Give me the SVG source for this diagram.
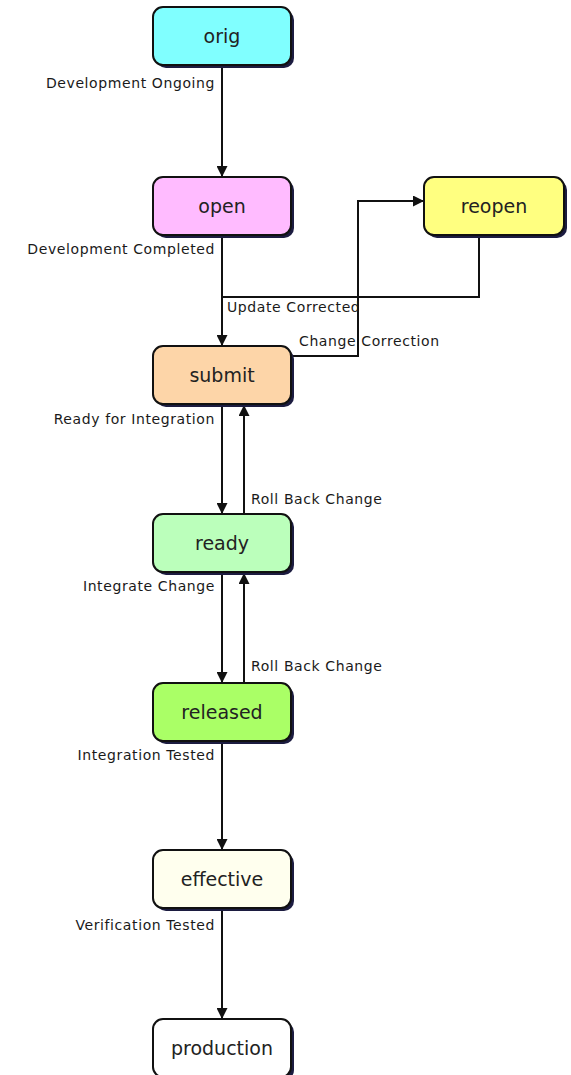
<svg xmlns="http://www.w3.org/2000/svg" width="571" height="1075" viewBox="0 0 571 1075">
<defs>
<marker id="arr" markerUnits="userSpaceOnUse" markerWidth="11" markerHeight="11" viewBox="0 0 10 10" refX="10" refY="5" orient="auto">
<path d="M0,0 L10,5 L0,10 Z" fill="#111"/>
</marker>
<style>
.box{stroke:#111;stroke-width:2}
.shadow{fill:#1c1c40}
.nl{font-family:"DejaVu Sans",Verdana,sans-serif;font-size:19px;fill:#222;text-anchor:middle}
.el{font-family:"DejaVu Sans",Verdana,sans-serif;font-size:14px;letter-spacing:0.6px;fill:#1a1a1a}
.r{text-anchor:end}
.c{fill:none;stroke:#111;stroke-width:2}
</style>
</defs>
<rect width="571" height="1075" fill="#ffffff"/>
<g id="connectors">
<path class="c" d="M222 66 V177" marker-end="url(#arr)"/>
<path class="c" d="M222 236 V346" marker-end="url(#arr)"/>
<path class="c" d="M479 236 V297 H222"/>
<path class="c" d="M292 356 H358 V201 H424" marker-end="url(#arr)"/>
<path class="c" d="M222 405 V514" marker-end="url(#arr)"/>
<path class="c" d="M244 514 V405" marker-end="url(#arr)"/>
<path class="c" d="M222 573 V683" marker-end="url(#arr)"/>
<path class="c" d="M244 683 V573" marker-end="url(#arr)"/>
<path class="c" d="M222 742 V850" marker-end="url(#arr)"/>
<path class="c" d="M222 909 V1019" marker-end="url(#arr)"/>
<text class="el r" x="215" y="88">Development Ongoing</text>
<text class="el r" x="215" y="254">Development Completed</text>
<text class="el" x="227" y="312">Update Corrected</text>
<text class="el" x="299" y="346">Change Correction</text>
<text class="el r" x="215" y="424">Ready for Integration</text>
<text class="el" x="251" y="504">Roll Back Change</text>
<text class="el r" x="215" y="591">Integrate Change</text>
<text class="el" x="251" y="671">Roll Back Change</text>
<text class="el r" x="215" y="760">Integration Tested</text>
<text class="el r" x="215" y="930">Verification Tested</text>
</g>
<g id="orig">
<rect class="shadow" x="156" y="10" width="138" height="58" rx="10"/>
<rect class="box" x="153" y="7" width="138" height="58" rx="10" fill="#80ffff"/>
<text class="nl" x="222" y="43">orig</text>
</g>
<g id="open">
<rect class="shadow" x="156" y="180" width="138" height="58" rx="10"/>
<rect class="box" x="153" y="177" width="138" height="58" rx="10" fill="#ffbbff"/>
<text class="nl" x="222" y="213">open</text>
</g>
<g id="reopen">
<rect class="shadow" x="427" y="180" width="140" height="58" rx="10"/>
<rect class="box" x="424" y="177" width="140" height="58" rx="10" fill="#ffff80"/>
<text class="nl" x="494" y="213">reopen</text>
</g>
<g id="submit">
<rect class="shadow" x="156" y="349" width="138" height="58" rx="10"/>
<rect class="box" x="153" y="346" width="138" height="58" rx="10" fill="#fdd5a8"/>
<text class="nl" x="222" y="382">submit</text>
</g>
<g id="ready">
<rect class="shadow" x="156" y="517" width="138" height="58" rx="10"/>
<rect class="box" x="153" y="514" width="138" height="58" rx="10" fill="#bbffbb"/>
<text class="nl" x="222" y="550">ready</text>
</g>
<g id="released">
<rect class="shadow" x="156" y="686" width="138" height="58" rx="10"/>
<rect class="box" x="153" y="683" width="138" height="58" rx="10" fill="#aaff66"/>
<text class="nl" x="222" y="719">released</text>
</g>
<g id="effective">
<rect class="shadow" x="156" y="853" width="138" height="58" rx="10"/>
<rect class="box" x="153" y="850" width="138" height="58" rx="10" fill="#ffffee"/>
<text class="nl" x="222" y="886">effective</text>
</g>
<g id="production">
<rect class="shadow" x="156" y="1022" width="138" height="58" rx="10"/>
<rect class="box" x="153" y="1019" width="138" height="58" rx="10" fill="#ffffff"/>
<text class="nl" x="222" y="1055">production</text>
</g>
</svg>
